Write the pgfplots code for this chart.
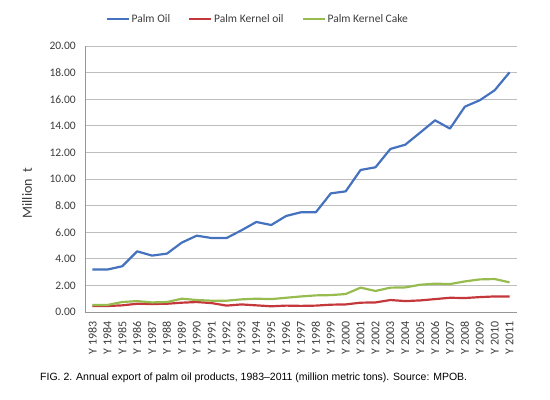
\documentclass[border=0pt]{standalone}
\usepackage{fontspec}
\setmainfont{Carlito}
\newfontfamily\capfont{Liberation Sans}
\usepackage{pgfplots}
\pgfplotsset{compat=1.18}
\definecolor{poBlue}{RGB}{68,114,190}
\definecolor{pkRed}{RGB}{196,56,60}
\definecolor{pcGreen}{RGB}{150,188,80}
\definecolor{gridGray}{RGB}{190,190,190}
\definecolor{axGray}{RGB}{150,150,150}
\definecolor{txt}{RGB}{60,60,60}
\begin{document}
\begin{tikzpicture}
\useasboundingbox (-85bp,-88bp) rectangle (465bp,312bp);
\begin{axis}[
  scale only axis=true,
  width=432bp, height=266bp,
  xmin=-0.5, xmax=28.5,
  ymin=0, ymax=20,
  axis x line*=bottom, axis y line*=left,
  axis line style={axGray, line width=0.8pt},
  every outer x axis line/.append style={-},
  every outer y axis line/.append style={-},
  xtick={0,...,28},
  xticklabels={Y 1983,Y 1984,Y 1985,Y 1986,Y 1987,Y 1988,Y 1989,Y 1990,Y 1991,Y 1992,Y 1993,Y 1994,Y 1995,Y 1996,Y 1997,Y 1998,Y 1999,Y 2000,Y 2001,Y 2002,Y 2003,Y 2004,Y 2005,Y 2006,Y 2007,Y 2008,Y 2009,Y 2010,Y 2011},
  xticklabel shift=9bp,
  xticklabel style={rotate=90, anchor=east, font=\fontsize{12bp}{12bp}\selectfont, text=txt, inner sep=0pt},
  ytick={0,2,...,20},
  yticklabel shift=9bp,
  yticklabel style={font=\fontsize{11.5bp}{12bp}\selectfont, text=txt, inner sep=0pt},
  /pgf/number format/assume math mode=true,
  yticklabel={\pgfmathprintnumber[fixed,fixed zerofill,precision=2]{\tick}},
  major tick length=0pt,
  ymajorgrids=true,
  grid style={gridGray, line width=0.7pt},
  ylabel={Million\ \ t},
  ylabel style={at={(axis description cs:-0.134,0.447)}, anchor=center, rotate=0, font=\fontsize{14bp}{15bp}\selectfont, text=txt},
  legend columns=3,
  legend style={at={(0.40,1.10)}, anchor=center, draw=none, fill=none, font=\fontsize{11.5bp}{12bp}\selectfont, text=txt,
    /tikz/every even column/.append style={column sep=16bp}, inner sep=0pt},
  legend image code/.code={\draw[#1, line width=2pt] (0bp,0bp) -- (22bp,0bp);},
  every axis plot/.append style={line width=2.2pt, line join=round},
]
\addplot[poBlue] coordinates {
(0,3.19) (1,3.19) (2,3.44) (3,4.56) (4,4.24) (5,4.39) (6,5.22) (7,5.74) (8,5.56) (9,5.56)
(10,6.14) (11,6.77) (12,6.54) (13,7.22) (14,7.50) (15,7.50) (16,8.92) (17,9.07) (18,10.68) (19,10.88)
(20,12.26) (21,12.58) (22,13.49) (23,14.41) (24,13.79) (25,15.44) (26,15.92) (27,16.67) (28,18.02)};
\addlegendentry{Palm Oil}
\addplot[pkRed] coordinates {
(0,0.45) (1,0.45) (2,0.50) (3,0.62) (4,0.60) (5,0.62) (6,0.70) (7,0.75) (8,0.67) (9,0.48)
(10,0.57) (11,0.50) (12,0.43) (13,0.48) (14,0.46) (15,0.48) (16,0.55) (17,0.57) (18,0.70) (19,0.72)
(20,0.90) (21,0.82) (22,0.87) (23,0.97) (24,1.07) (25,1.05) (26,1.12) (27,1.17) (28,1.17)};
\addlegendentry{Palm Kernel oil}
\addplot[pcGreen] coordinates {
(0,0.53) (1,0.53) (2,0.75) (3,0.82) (4,0.72) (5,0.75) (6,1.00) (7,0.90) (8,0.85) (9,0.85)
(10,0.95) (11,1.00) (12,0.97) (13,1.07) (14,1.17) (15,1.25) (16,1.27) (17,1.35) (18,1.83) (19,1.58)
(20,1.83) (21,1.85) (22,2.05) (23,2.13) (24,2.10) (25,2.30) (26,2.45) (27,2.48) (28,2.23)};
\addlegendentry{Palm Kernel Cake}
\end{axis}
\node[anchor=west, inner sep=0pt, font=\capfont\fontsize{10.5bp}{12bp}\selectfont] at (-45bp,-66bp) {FIG. 2. Annual export of palm oil products, 1983–2011 (million metric tons). Source: MPOB.};
\end{tikzpicture}
\end{document}
